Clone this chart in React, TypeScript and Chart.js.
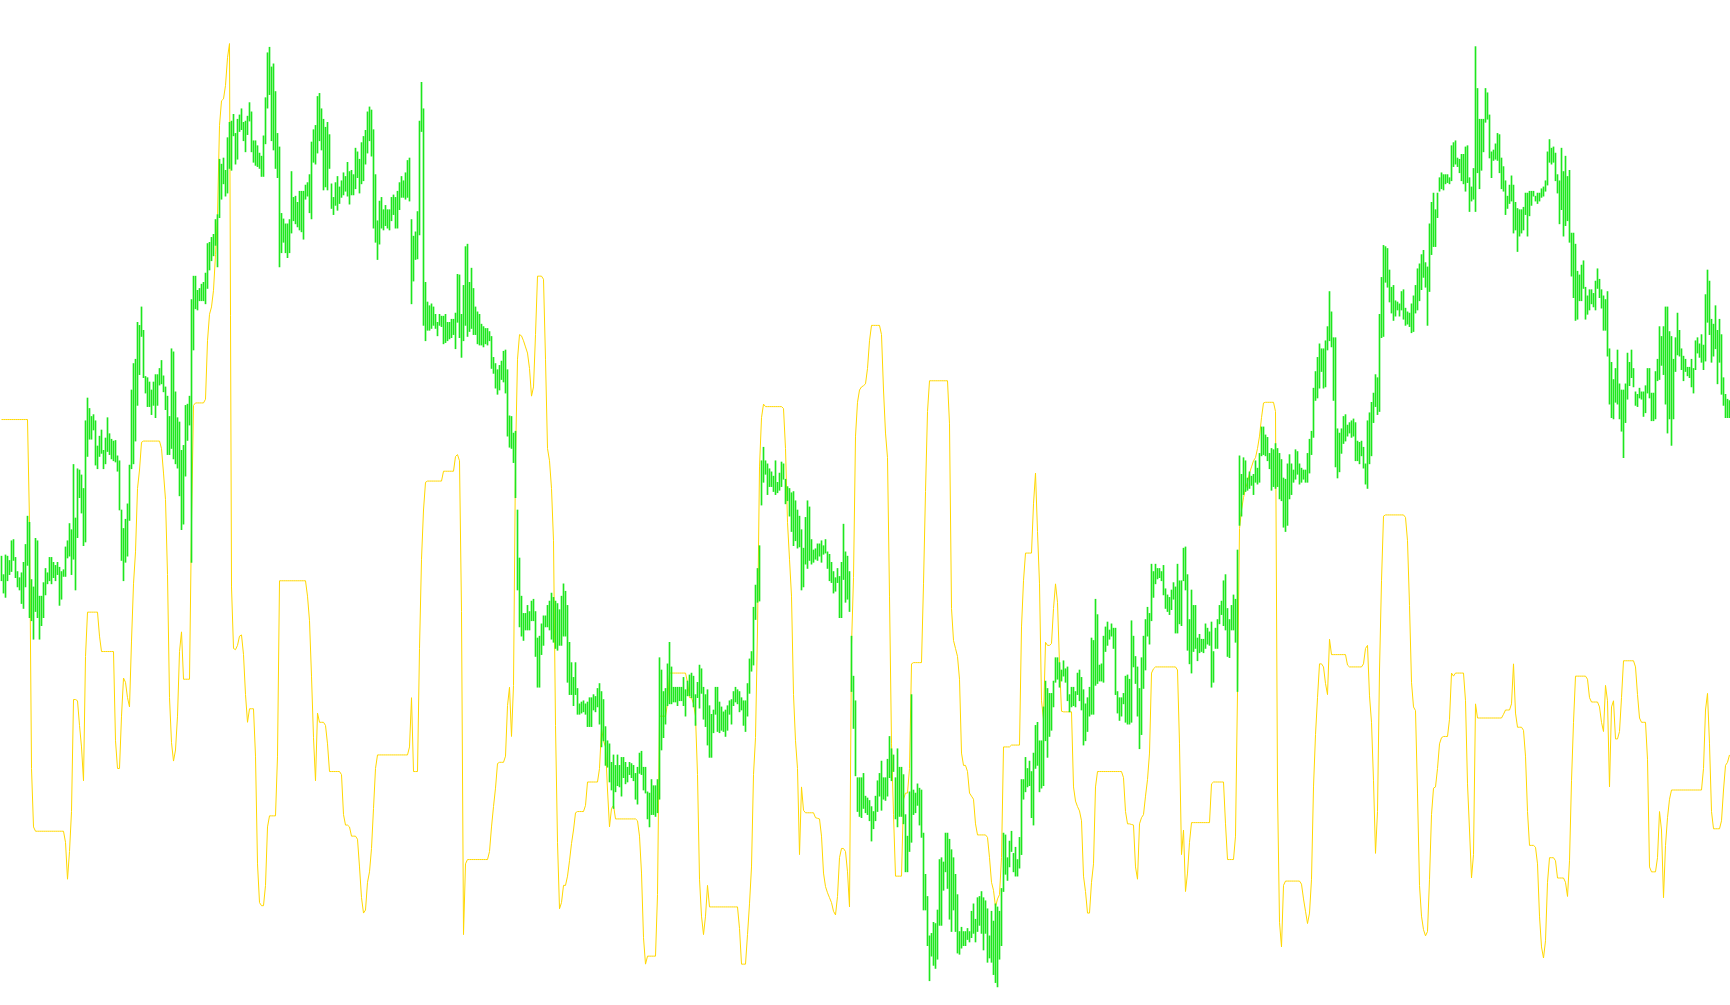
import React, { useEffect, useRef } from "react";
import { Chart, registerables } from "chart.js";

Chart.register(...registerables);

// Bar highs (price units), one per bar, left to right
const barHigh: number[] = [
1145,1115,1147,1145,1138,1170,1172,1143,1120,1110,
1118,1135,1164,1210,1200,1107,1095,1174,1170,1080,
1080,1102,1125,1118,1143,1143,1135,1130,1135,1127,
1120,1123,1160,1170,1198,1188,1294,1207,1287,1285,
1277,1255,1365,1402,1385,1372,1375,1365,1324,1340,
1350,1317,1337,1370,1344,1335,1332,1333,1308,1300,
1220,1190,1205,1230,1293,1415,1458,1465,1525,1520,
1550,1512,1437,1435,1428,1415,1428,1440,1440,1450,
1463,1438,1420,1405,1372,1482,1477,1412,1370,1363,
1317,1325,1390,1392,1405,1562,1600,1600,1577,1580,
1587,1590,1605,1653,1655,1663,1668,1692,1700,1790,
1782,1792,1772,1825,1850,1852,1863,1832,1855,1862,
1872,1850,1852,1860,
1882,1867,1820,1820,1812,1800,1795,1828,1890,1963,
1972,1940,1945,1900,1832,1810,1702,1693,1685,1685,
1692,1770,1728,1730,1720,1738,1738,1738,1748,1752,
1765,1818,1838,1845,1892,1897,1872,1855,1842,1850,
1830,1750,1728,1752,1762,1745,1755,1768,1762,1785,
1770,1772,1765,1808,1802,1790,1817,1827,1837,1867,
1875,1870,1838,1765,1690,1722,1728,1708,1715,1708,
1708,1728,1732,1728,1738,1752,1762,1755,1768,1788,
1792,1692,1665,1672,1705,1852,1915,1872,1590,1558,
1552,1555,1550,1538,1525,1538,1535,1535,1538,1525,
1525,1530,1530,1540,1603,1602,1538,1585,1648,1652,
1590,1613,1580,1550,1542,1538,1522,1518,1515,1515,
1510,1502,1468,
1458,1448,1455,1462,1478,1480,1448,1373,1372,1345,
1348,1220,1142,1080,1052,1052,1065,1055,1072,1075,
1055,1012,1015,1035,1048,1048,1065,1072,1085,1078,
1072,1068,1058,1080,1100,1088,1065,1005,972,948,
972,930,905,908,910,905,908,915,915,920,
917,930,938,925,912,868,845,840,810,822,
805,822,805,818,818,810,802,810,808,805,
792,802,825,828,802,802,762,760,782,772,
772,782,980,960,925,930,970,1005,965,932,
932,932,932,932,948,928,942,952,955,950,
920,940,968,962,932,920,928,902,888,895,
932,932,908,900,892,895,902,910,912,925,
932,928,925,915,
910,910,938,978,990,1062,1098,1125,1162,1300,
1322,1300,1295,1287,1282,1275,1300,1265,1280,1298,
1295,1270,1258,1255,1248,1250,1235,1220,1210,1188,
1158,1208,1235,1225,1172,1155,1157,1165,1165,1170,
1162,1172,1152,1148,1135,1120,1110,1125,1112,1135,
1197,1152,1145,1120,1015,950,910,785,785,785,
792,755,752,748,738,730,755,780,792,812,
785,785,815,852,832,822,785,832,802,802,
790,725,690,762,920,765,760,775,768,765,
695,628,592,528,532,550,548,570,652,655,
648,695,695,685,668,655,628,595,535,542,
535,535,540,535,568,580,555,590,592,600,
590,585,572,
528,568,552,580,575,568,605,695,692,655,
682,698,662,672,652,688,782,782,818,800,
812,795,825,870,875,845,845,900,942,930,
922,922,942,980,980,972,960,975,962,965,
920,932,932,925,955,960,948,928,905,915,
932,1012,1008,1075,1050,968,970,1015,1030,1038,
1025,1035,1028,1028,925,915,915,922,950,952,
945,1040,1015,982,965,930,980,1015,1042,1062,
1052,1132,1120,1132,1125,1125,1120,1130,1092,1082,
1078,1090,1102,1095,1132,1105,1105,1158,1160,1115,
1042,1090,1065,1065,1012,1018,1010,1010,1035,1028,
1022,1038,990,1028,1042,1065,1072,1105,1115,1060,
1042,1065,1082,1075,
1155,1308,1278,1305,1300,1272,1282,1275,1278,1300,
1288,1312,1355,1355,1342,1338,1312,1320,1318,1328,
1320,1312,1302,1272,1270,1295,1310,1295,1285,1318,
1315,1295,1288,1285,1285,1312,1335,1348,1418,1445,
1468,1490,1482,1482,1495,1518,1575,1542,1500,1500,
1352,1345,1352,1372,1375,1358,1362,1365,1368,1362,
1332,1330,1332,1322,1295,1365,1378,1395,1410,1440,
1435,1538,1598,1650,1648,1645,1610,1582,1585,1560,
1558,1555,1575,1578,1548,1542,1540,1555,1568,1585,
1612,1620,1635,1642,1622,1615,1685,1720,1735,1708,
1735,1760,1768,1765,1765,1765,1760,1812,1817,1820,
1792,1790,1798,1798,1810,1812,1760,1745,1775,1973,
1905,1855,1855,
1855,1905,1898,1862,1802,1805,1815,1832,1830,1792,
1778,1755,1730,1748,1763,1748,1720,1710,1708,1708,
1712,1735,1735,1738,1738,1738,1730,1735,1735,1742,
1745,1755,1802,1822,1808,1810,1800,1765,1755,1808,
1770,1795,1762,1772,1670,1670,1652,1608,1602,1618,
1625,1582,1568,1578,1578,1572,1592,1612,1595,1578,
1568,1562,1575,1482,1460,1432,1450,1480,1425,1415,
1415,1425,1475,1460,1480,1450,1412,1408,1418,1412,
1412,1422,1450,1450,1410,1410,1445,1465,1518,1502,
1518,1550,1550,1510,1502,1465,1500,1540,1512,1482,
1470,1465,1452,1452,1465,1450,1495,1500,1490,1505,
1488,1570,1610,1592,1530,1522,1552,1512,1530,1505,
1435,1408,1400,1398,
];

// Bar lows (price units)
const barLow: number[] = [
1105,1085,1078,1105,1115,1120,1138,1110,1095,1090,
1068,1060,1095,1130,1045,1040,1010,1055,1045,1010,
1032,1045,1082,1100,1105,1100,1110,1105,1115,1065,
1075,1112,1112,1142,1145,1115,1140,1090,1175,1240,
1215,1162,1168,1307,1335,1335,1350,1293,1287,1307,
1312,1287,1295,1315,1310,1303,1300,1298,1283,1220,
1138,1105,1135,1145,1203,1287,1295,1332,1390,1440,
1502,1435,1410,1388,1388,1375,1390,1370,1390,1423,
1425,1412,1383,1310,1310,1320,1303,1295,1288,1243,
1188,1197,1275,1333,1358,1135,1480,1547,1545,1560,
1560,1560,1555,1580,1610,1625,1633,1650,1615,1695,
1725,1750,1730,1735,1775,1772,1828,1782,1790,1835,
1838,1820,1802,1830,
1852,1802,1785,1780,1778,1775,1762,1762,1815,1873,
1895,1820,1805,1775,1760,1615,1638,1655,1638,1630,
1638,1670,1690,1685,1680,1675,1672,1660,1725,1730,
1703,1693,1785,1782,1800,1820,1805,1740,1745,1740,
1775,1710,1700,1715,1707,1718,1728,1732,1738,1730,
1717,1732,1732,1742,1760,1735,1750,1755,1782,1800,
1820,1795,1678,1655,1627,1652,1678,1675,1682,1678,
1675,1690,1700,1678,1678,1708,1728,1728,1725,1728,
1722,1555,1592,1627,1628,1667,1835,1520,1495,1512,
1512,1515,1520,1515,1503,1520,1518,1490,1492,1495,
1498,1500,1505,1482,1525,1500,1468,1495,1520,1502,
1510,1515,1505,1505,1490,1488,1488,1485,1490,1488,
1495,1450,1442,
1418,1408,1415,1432,1428,1410,1340,1322,1320,1297,
1240,1090,1030,1015,1008,1025,1025,1025,1040,1040,
982,932,932,985,1000,1030,1030,1025,1010,1005,
995,992,1000,1000,1015,1015,940,920,920,902,
920,888,888,890,892,888,868,868,868,895,
892,900,872,835,845,805,802,778,765,735,
762,772,770,755,785,775,778,790,785,780,
750,742,792,790,765,760,718,705,725,725,
722,728,750,830,850,872,902,905,905,908,
908,902,910,910,902,885,918,918,915,900,
870,915,898,922,880,868,838,818,818,858,
888,860,858,862,860,852,862,888,872,902,
908,905,892,895,
870,860,885,922,958,968,1042,1070,1072,1228,
1265,1278,1245,1258,1258,1250,1245,1248,1252,1258,
1270,1230,1235,1210,1185,1162,1170,1158,1160,1090,
1095,1132,1125,1138,1132,1135,1140,1138,1145,1135,
1148,1150,1125,1105,1102,1085,1088,1102,1045,1045,
1107,1070,1075,1055,925,865,788,730,722,720,
735,728,725,715,682,702,715,730,755,732,
750,748,755,785,780,795,718,705,722,722,
710,632,632,665,680,725,728,740,708,688,
570,570,512,455,495,480,475,490,545,545,
602,632,605,555,535,570,535,500,498,508,
512,512,522,518,525,532,518,535,545,532,
505,532,485,
492,485,465,452,445,490,512,600,628,618,
640,665,632,625,625,638,660,750,762,770,
772,720,708,800,805,762,768,772,845,818,
852,862,900,940,945,932,942,950,940,910,
892,900,902,900,920,910,895,838,845,860,
885,888,888,935,938,942,942,940,990,1000,
1010,1015,995,920,890,878,885,905,875,872,
872,875,965,938,885,832,855,930,960,1015,
1002,1040,1078,1100,1108,1110,1105,1082,1060,1055,
1050,1058,1075,1020,1020,1035,1032,1105,1090,992,
970,955,990,995,975,988,990,988,995,1002,
1000,932,940,995,995,1035,1050,1032,1025,982,
980,1025,1025,1005,
925,1195,1210,1245,1250,1252,1255,1260,1245,1265,
1262,1265,1308,1310,1308,1300,1287,1252,1258,1255,
1258,1238,1235,1192,1185,1195,1238,1245,1265,1270,
1278,1262,1265,1270,1265,1265,1280,1310,1338,1398,
1402,1418,1445,1418,1420,1480,1495,1485,1398,1290,
1272,1282,1312,1328,1332,1340,1345,1338,1340,1300,
1300,1295,1308,1288,1262,1255,1295,1308,1362,1388,
1375,1380,1500,1502,1590,1582,1558,1540,1528,1535,
1545,1535,1545,1530,1520,1522,1518,1508,1510,1540,
1545,1560,1578,1598,1582,1520,1575,1635,1648,1648,
1695,1738,1742,1740,1750,1752,1750,1755,1778,1782,
1778,1768,1755,1750,1738,1752,1705,1722,1725,1705,
1768,1742,1772,
1802,1850,1855,1792,1760,1788,1790,1788,1768,1742,
1738,1700,1710,1718,1722,1670,1675,1640,1665,1670,
1675,1700,1665,1698,1715,1730,1722,1718,1722,1728,
1730,1738,1748,1785,1782,1785,1755,1735,1685,1708,
1665,1682,1690,1655,1600,1565,1528,1530,1560,1560,
1580,1530,1538,1545,1555,1550,1545,1580,1565,1548,
1512,1512,1470,1392,1370,1368,1395,1392,1368,1348,
1305,1362,1400,1422,1435,1420,1390,1388,1402,1400,
1372,1378,1410,1402,1365,1365,1368,1430,1432,1455,
1440,1392,1345,1368,1325,1368,1445,1472,1470,1448,
1430,1445,1438,1435,1420,1410,1448,1475,1468,1460,
1448,1462,1525,1505,1460,1470,1482,1425,1460,1408,
1390,1370,1370,1370,
];

// Yellow indicator line, one value per bar
const signal: number[] = [
1367,1367,1367,1367,1367,1367,1367,1367,1367,1367,
1367,1367,1367,1367,1200,800,705,698,698,698,
698,698,698,698,698,698,698,698,698,698,
698,698,680,620,665,730,912,912,910,870,
835,780,982,1054,1054,1054,1054,1054,1054,1015,
990,990,990,990,990,990,990,845,800,800,
885,947,940,915,900,1007,1100,1152,1255,1285,
1330,1332,1332,1332,1332,1332,1332,1332,1332,1332,
1320,1280,1237,1115,915,842,812,830,885,990,
1022,945,945,945,945,1200,1390,1394,1394,1394,
1394,1394,1400,1495,1538,1550,1577,1635,1700,1845,
1885,1888,1910,1955,1978,1095,995,993,1000,1015,
1017,985,920,875,897,897,897,820,645,582,
577,577,610,705,723,723,723,723,820,1105,
1105,1105,1105,1105,1105,1105,1105,1105,1105,1105,
1105,1105,1105,1080,1040,950,850,780,890,875,
875,875,870,840,795,795,795,795,795,795,
790,725,708,708,705,690,690,690,685,640,
590,565,570,615,632,670,735,800,822,822,
822,822,822,822,822,822,822,822,822,822,
822,822,822,822,835,915,795,795,795,995,
1140,1220,1265,1267,1267,1267,1267,1267,1267,1267,
1267,1283,1283,1283,1283,1283,1283,1307,1310,1300,
1055,530,645,652,652,652,652,652,652,652,
652,652,652,652,665,705,738,768,808,810,
810,810,820,902,932,852,935,1305,1465,1505,
1503,1495,1485,1475,1450,1405,1420,1505,1600,1600,
1600,1595,1465,1320,1300,1255,1170,870,680,572,
582,610,610,625,650,678,700,728,730,730,
730,730,740,778,778,778,778,778,778,800,
865,845,835,765,705,735,740,718,718,718,
718,718,718,718,718,718,718,718,715,690,
630,525,482,495,495,495,495,495,595,885,
885,885,885,905,955,955,955,955,955,955,
955,955,955,940,915,915,905,885,790,620,
560,530,560,610,575,575,575,575,575,575,
575,575,575,575,575,575,575,575,575,540,
482,482,482,530,580,640,790,850,1025,1290,
1370,1392,1388,1388,1388,1388,1388,1388,1388,1388,
1388,1385,1320,1200,1140,1080,920,845,800,660,
770,732,728,728,728,728,728,720,719,718,
690,630,608,598,590,582,568,562,592,655,
670,670,665,632,575,1000,1110,1340,1395,1415,
1420,1422,1425,1450,1495,1520,1520,1520,1520,1520,
1505,1415,1345,1305,1080,840,725,625,625,625,
625,750,760,760,800,970,972,972,972,972,
972,1100,1250,1380,1430,1430,1430,1430,1430,1430,
1430,1430,1430,1430,1360,1060,1008,995,982,945,
825,805,805,795,760,755,750,710,692,692,
692,692,692,688,655,615,602,575,588,595,
655,835,835,835,835,838,838,838,838,838,
1030,1105,1150,1150,1150,1150,1230,1280,1185,1100,
910,880,1005,1000,1000,1003,1060,1100,1070,970,
893,892,892,892,892,892,770,747,738,731,
715,625,600,565,565,615,645,770,795,795,
795,795,795,795,795,795,795,795,795,795,
795,785,730,710,710,709,708,640,620,710,
720,725,755,782,825,955,962,965,965,965,
965,965,965,965,965,965,965,965,960,840,
660,700,600,630,680,712,712,712,712,712,
712,712,712,712,712,775,778,778,778,778,
778,778,710,652,652,652,652,690,925,1190,
1220,1240,1255,1265,1280,1290,1300,1305,1320,1340,
1370,1394,1395,1395,1395,1395,1395,1380,765,550,
510,610,617,617,617,617,617,617,617,617,
612,588,568,548,565,620,770,855,915,970,
970,965,938,920,1010,985,985,985,985,985,
985,985,985,968,965,965,965,965,965,965,
965,970,995,1000,918,875,780,662,730,960,
1105,1210,1212,1212,1212,1212,1212,1212,1212,1212,
1212,1212,1208,1170,1065,940,900,894,760,610,
560,538,528,535,620,725,768,770,800,840,
850,852,852,852,880,955,950,955,955,955,
955,955,910,775,700,622,660,905,882,882,
882,882,882,882,882,882,882,882,882,882,
882,888,895,895,895,905,970,890,867,867,
867,862,820,730,675,675,675,672,645,560,
510,492,520,615,655,655,655,650,622,622,
622,622,615,592,650,780,875,950,950,950,
950,950,950,945,915,908,908,908,908,900,
875,860,935,910,770,900,910,848,848,860,
915,975,975,975,975,975,975,965,920,882,
875,875,875,815,640,632,632,632,655,730,
700,590,675,720,750,765,765,765,765,765,
765,765,765,765,765,765,765,765,765,765,
765,800,895,922,840,730,702,702,702,702,
715,765,805,810,822,
];

const PRICE_MIN = 415.625;
const PRICE_MAX = 2048.75;
const BAR_COLOR = "#1ee61e";
const LINE_COLOR = "#ffd700";

export default function App() {
  const canvasRef = useRef<HTMLCanvasElement | null>(null);

  useEffect(() => {
    document.body.style.margin = "0";
    document.body.style.background = "#ffffff";
    const canvas = canvasRef.current;
    if (!canvas) return;
    const n = Math.min(barHigh.length, barLow.length);
    const barData = [];
    for (let i = 0; i < n; i++) barData.push({ x: i, y: [barLow[i], barHigh[i]] });
    const lineData = signal.map((v, i) => ({ x: i, y: v }));

    const chart = new Chart(canvas, {
      type: "bar",
      data: {
        datasets: [
          {
            type: "bar",
            data: barData as any,
            backgroundColor: BAR_COLOR,
            borderWidth: 0,
            barThickness: 1,
            grouped: false,
            order: 0,
          } as any,
          {
            type: "line",
            data: lineData as any,
            borderColor: LINE_COLOR,
            borderWidth: 1,
            pointRadius: 0,
            tension: 0,
            fill: false,
            order: 1,
          } as any,
        ],
      },
      options: {
        responsive: false,
        animation: false,
        devicePixelRatio: 1,
        layout: { padding: 0 },
        plugins: { legend: { display: false }, tooltip: { enabled: false } },
        scales: {
          x: {
            type: "linear",
            min: -0.75,
            max: n - 1 + 0.25,
            offset: false,
            display: false,
            grid: { display: false },
          },
          y: {
            type: "linear",
            min: PRICE_MIN,
            max: PRICE_MAX,
            display: false,
            grid: { display: false },
          },
        },
      },
    });
    return () => chart.destroy();
  }, []);

  return (
    <div style={{ position: "fixed", left: 0, top: 0, width: 1730, height: 1005, background: "#fff" }}>
      <canvas ref={canvasRef} width={1730} height={1005} style={{ display: "block" }} />
    </div>
  );
}
